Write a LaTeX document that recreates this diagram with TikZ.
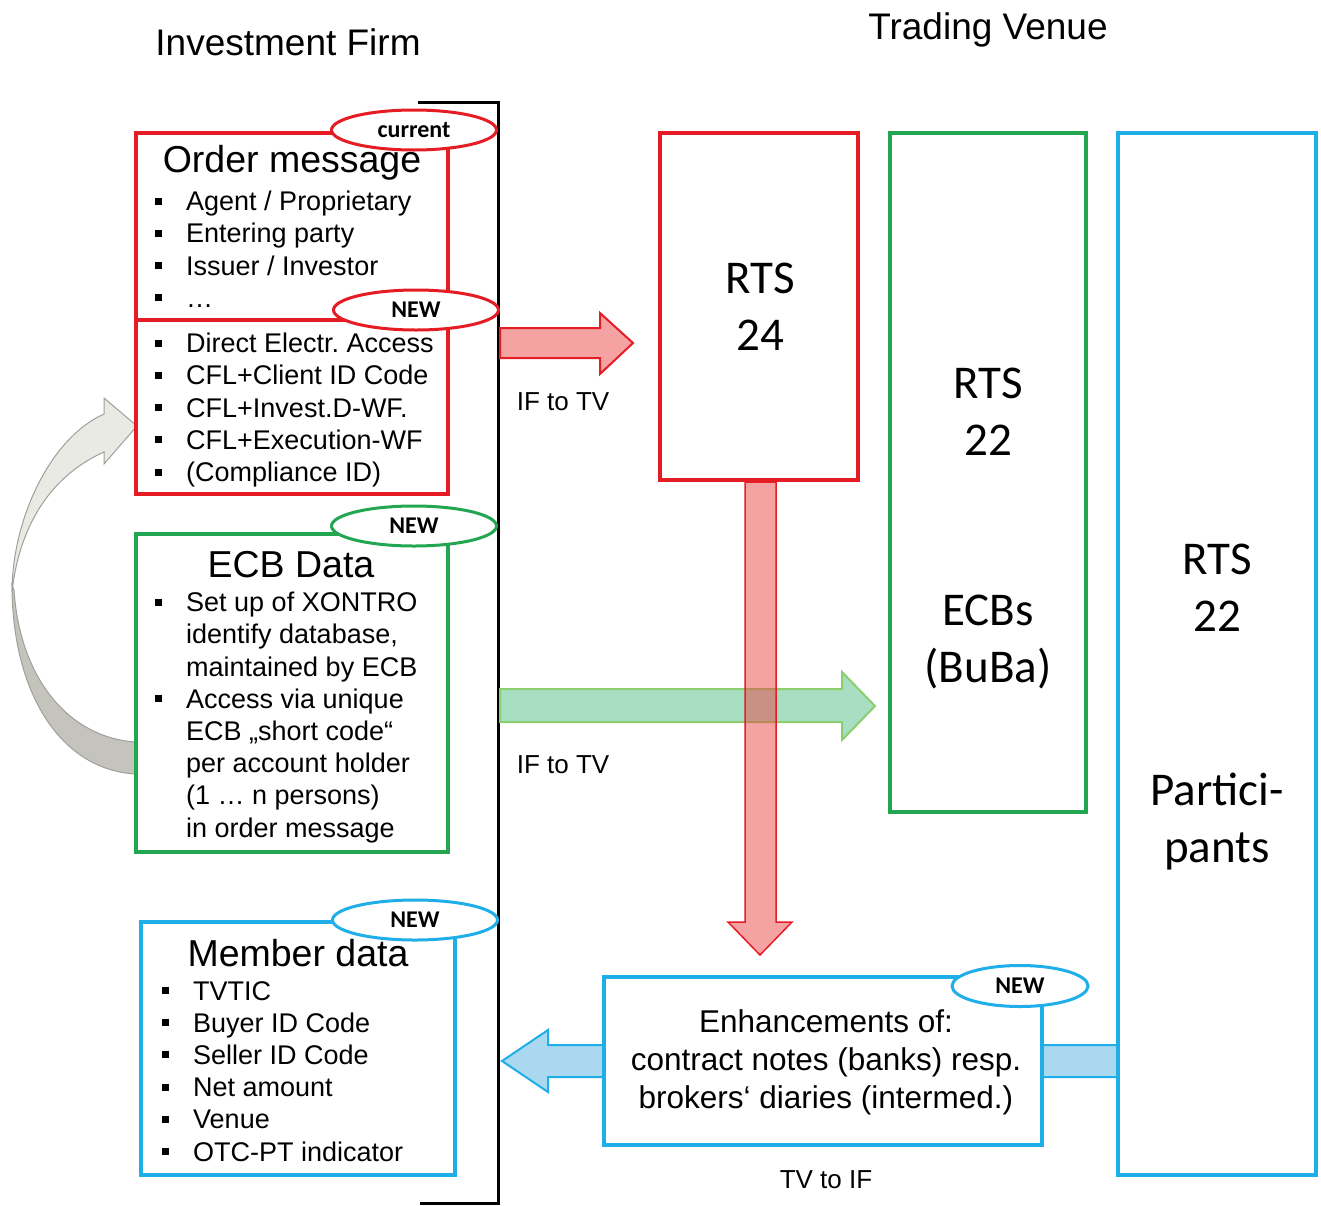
\documentclass[tikz,border=0pt]{standalone}
\usepackage{fontspec}
\setmainfont{Liberation Sans}
\newfontfamily\calfont{Carlito}
\usetikzlibrary{shapes.geometric,fit}
\frenchspacing
\definecolor{cred}{HTML}{E51C24}
\definecolor{cgreen}{HTML}{22A652}
\definecolor{cblue}{HTML}{1FAEE8}
\definecolor{redfill}{RGB}{235,70,70}
\definecolor{greenfill}{RGB}{168,222,194}
\definecolor{greenedge}{RGB}{140,205,110}
\definecolor{bluefill}{RGB}{170,216,240}
\definecolor{greylight}{RGB}{234,234,228}
\definecolor{greydark}{RGB}{196,196,188}
\definecolor{greyedge}{RGB}{160,160,155}
\newcommand\bul{\makebox[31pt][l]{\raisebox{6pt}{\rule{7pt}{7pt}}}}
\newcommand\ind{\hspace*{31pt}}
\tikzset{
  framebox/.style={draw=#1, line width=3.5pt, fill=white, inner sep=0pt},
  ovaltag/.style={ellipse, draw=#1, line width=3pt, fill=white, inner sep=0pt,
    minimum width=165pt, minimum height=40pt,
    font=\calfont\bfseries\fontsize{24}{24}\selectfont},
  listtxt/.style={anchor=north west, align=left, inner sep=0pt,
    font=\fontsize{27}{32.2}\selectfont},
  boxtitle/.style={inner sep=0pt, font=\fontsize{37.5}{37.5}\selectfont},
  rtstxt/.style={align=center, inner sep=0pt, font=\calfont\fontsize{47}{57}\selectfont},
  smalllbl/.style={inner sep=0pt, font=\fontsize{26}{26}\selectfont},
  heading/.style={inner sep=0pt, font=\fontsize{37}{37}\selectfont},
}
\begin{document}
\begin{tikzpicture}[x=1pt,y=-1pt]
\useasboundingbox[fill=white] (0,0) rectangle (1321,1205);

% headings
\node[heading] (hif) at (288,42) {Investment Firm};
\node[heading] (htv) at (988,30) {Trading Venue};

% bracket of the investment firm
\draw[line width=3pt] (418,102) -- (498,102) -- (498,1203) -- (420,1203);

% grey curved arrow (ECB data -> order message)
\fill[greydark, draw=greyedge, line width=1pt]
  (12,585) .. controls (12,692) and (60,770) .. (136,774) -- (136,742)
  .. controls (70,738) and (20,680) .. (14,590) -- cycle;
\fill[greylight, draw=greyedge, line width=1pt]
  (104,414) .. controls (50,438) and (12,520) .. (12,592)
  .. controls (20,520) and (55,474) .. (104,452) -- (104,464) -- (137,426)
  -- (104,398) -- cycle;

% boxes on the investment firm side
\node[framebox=cred, fit={(136,133) (448,320)}] (om) {};
\node[framebox=cred, fit={(136,320) (448,494)}] (omnew) {};
\node[framebox=cgreen, fit={(136,534) (448,852)}] (ecb) {};
\node[framebox=cblue, fit={(141,922) (455,1175)}] (mem) {};

% boxes on the trading venue side
\node[framebox=cred, fit={(660,133) (858,480)}] (rts24) {};
\node[framebox=cgreen, fit={(890,133) (1086,812)}] (rts22e) {};
\node[framebox=cblue, fit={(1118,133) (1316,1175)}] (rts22p) {};

% blue arrow TV -> IF
\draw[cblue, line width=2pt, fill=bluefill]
  (1117,1045) -- (548,1045) -- (548,1030) -- (502,1061) -- (548,1092)
  -- (548,1077) -- (1117,1077) -- cycle;
\node[framebox=cblue, fit={(604,977) (1042,1145)}] (enh) {};
\node[align=center, inner sep=0pt, font=\fontsize{31.5}{38}\selectfont] (enhtxt) at (826,1062)
  {Enhancements of:\\contract notes (banks) resp.\\brokers‘ diaries (intermed.)};
\node[smalllbl] (tvif) at (826,1180) {TV to IF};

% red arrow IF -> TV
\draw[cred, line width=2pt, fill=redfill, fill opacity=0.5]
  (500,328) -- (600,328) -- (600,313) -- (633,343) -- (600,374) -- (600,358)
  -- (500,358) -- cycle;
\node[smalllbl] (iftv1) at (563,402) {IF to TV};

% green arrow IF -> TV
\draw[greenedge, line width=2pt, fill=greenfill]
  (500,689) -- (842,689) -- (842,672) -- (875,706) -- (842,740) -- (842,722)
  -- (500,722) -- cycle;
\node[smalllbl] (iftv2) at (563,765) {IF to TV};

% red arrow down from RTS 24
\draw[cred, line width=1.5pt, fill=redfill, fill opacity=0.5]
  (745,482) -- (745,922) -- (728,922) -- (760,955) -- (792,922) -- (776,922)
  -- (776,482) -- cycle;

% texts in the trading venue boxes
\node[rtstxt] (t24) at (760,307) {RTS\\24};
\node[rtstxt] (t22a) at (988,412) {RTS\\22};
\node[rtstxt] (tecbs) at (988,642) {ECBs\\(BuBa)};
\node[rtstxt] (t22b) at (1217,588) {RTS\\22};
\node[rtstxt] (tpart) at (1217,822) {Partici-\\pants};

% texts in the investment firm boxes
\node[boxtitle] (omtitle) at (292,163) {Order message};
\node[listtxt] (omlist) at (155,191)
  {\bul Agent / Proprietary\\\bul Entering party\\\bul Issuer / Investor\\\bul …};
\node[listtxt] (omnewlist) at (155,333)
  {\bul Direct Electr. Access\\\bul CFL+Client ID Code\\\bul CFL+Invest.D-WF.\\\bul CFL+Execution-WF\\\bul (Compliance ID)};
\node[boxtitle] (ecbtitle) at (291,565) {ECB Data};
\node[listtxt] (ecblist) at (155,592)
  {\bul Set up of XONTRO\\\ind identify database,\\\ind maintained by ECB\\\bul Access via unique\\\ind ECB „short code“\\\ind per account holder\\\ind (1 … n persons)\\\ind in order message};
\node[boxtitle] (memtitle) at (298,953) {Member data};
\node[listtxt] (memlist) at (162,981)
  {\bul TVTIC\\\bul Buyer ID Code\\\bul Seller ID Code\\\bul Net amount\\\bul Venue\\\bul OTC-PT indicator};

% tags
\node[ovaltag=cred] (tcur) at (414,130) {current};
\node[ovaltag=cred] (tnew1) at (416,310) {NEW};
\node[ovaltag=cgreen] (tnew2) at (414,526) {NEW};
\node[ovaltag=cblue] (tnew3) at (415,920) {NEW};
\node[ovaltag=cblue, minimum width=136pt, minimum height=41pt] (tnew4) at (1020,986) {NEW};
\end{tikzpicture}
\end{document}
